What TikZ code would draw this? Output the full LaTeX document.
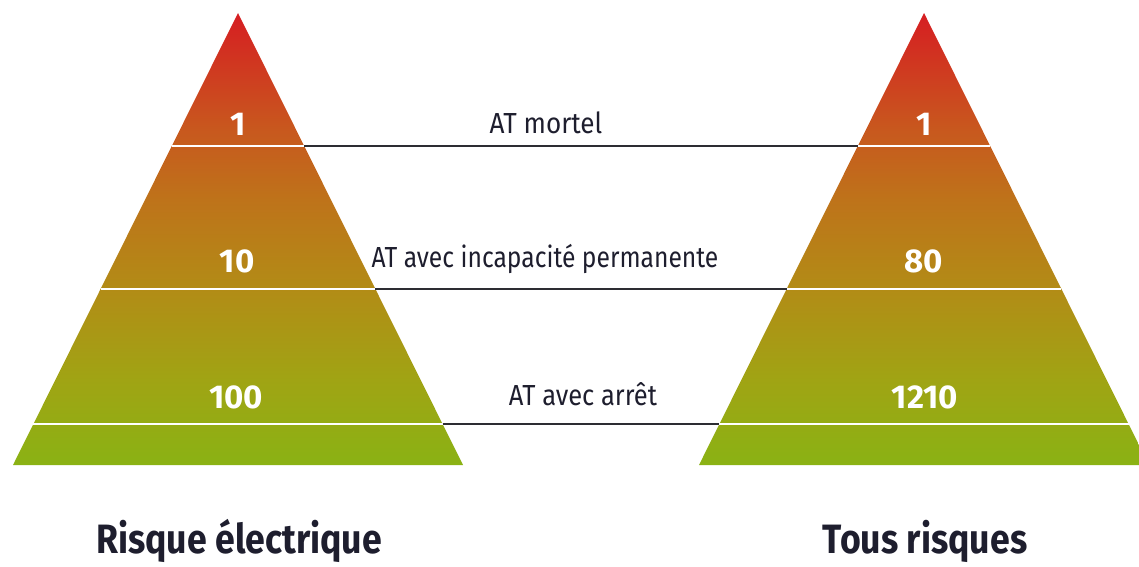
\documentclass[tikz,border=0pt]{standalone}
\usepackage{graphicx}
\usepackage{fontspec}
\setmainfont{Fira Sans}
\definecolor{pgreen}{RGB}{138,178,20}
\definecolor{polive}{RGB}{160,164,20}
\definecolor{pochre}{RGB}{178,140,22}
\definecolor{pbrown}{RGB}{190,115,26}
\definecolor{porange}{RGB}{200,88,30}
\definecolor{pred}{RGB}{214,30,34}
\definecolor{labtext}{RGB}{30,30,46}
\definecolor{connline}{RGB}{45,45,50}
\newcommand{\squeeze}[2]{\scalebox{#1}[1]{#2}}
\pgfdeclareverticalshading{pyrshade}{100bp}{color(0bp)=(pgreen); color(25bp)=(pgreen); color(34.4bp)=(polive); color(44.4bp)=(pochre); color(54.3bp)=(pbrown); color(62.1bp)=(porange); color(75bp)=(pred); color(100bp)=(pred)}
\tikzset{
  sep/.style={white, line width=2.2pt},
  conn/.style={connline, line width=2.2pt},
  num/.style={text=white, font=\fontsize{33}{36}\selectfont\bfseries, anchor=base, inner sep=0pt},
  lab/.style={text=labtext, font=\fontsize{29}{32}\selectfont, anchor=base, inner sep=0pt},
  ttl/.style={text=labtext, font=\fontsize{41}{46}\selectfont\bfseries, anchor=base, inner sep=0pt}
}
\begin{document}
\begin{tikzpicture}[x=1pt,y=-1pt]
\useasboundingbox (0,0) rectangle (1139,566);
\begin{scope}
\clip (0,0) rectangle (1139,566);
\shade[shading=pyrshade] (238,13) -- (463,465) -- (13,465) -- cycle;
\shade[shading=pyrshade] (924,13) -- (1149,465) -- (699,465) -- cycle;
% separators
\coordinate (la1) at (171.8,146); \coordinate (lb1) at (304.2,146);
\coordinate (la2) at (100.6,289); \coordinate (lb2) at (375.4,289);
\coordinate (la3) at (33.4,424);  \coordinate (lb3) at (442.6,424);
\coordinate (ra1) at (857.8,146); \coordinate (rb1) at (990.2,146);
\coordinate (ra2) at (786.6,289); \coordinate (rb2) at (1061.4,289);
\coordinate (ra3) at (719.4,424); \coordinate (rb3) at (1128.6,424);
\draw[sep] (la1) -- (lb1); \draw[sep] (la2) -- (lb2); \draw[sep] (la3) -- (lb3);
\draw[sep] (ra1) -- (rb1); \draw[sep] (ra2) -- (rb2); \draw[sep] (ra3) -- (rb3);
\end{scope}
% connectors
\draw[conn] (lb1) -- (ra1);
\draw[conn] (lb2) -- (ra2);
\draw[conn] (lb3) -- (ra3);
% numbers
\node[num] (nl1) at (238,135) {1};
\node[num] (nl2) at (237,272) {10};
\node[num] (nl3) at (236,408) {100};
\node[num] (nr1) at (924,135) {1};
\node[num] (nr2) at (924,272) {80};
\node[num] (nr3) at (925,408) {1210};
% labels
\node[lab] (t1) at (546,133) {\squeeze{0.9}{AT mortel}};
\node[lab] (t2) at (545,267) {\squeeze{0.85}{AT avec incapacité permanente}};
\node[lab] (t3) at (583,405) {\squeeze{0.88}{AT avec arrêt}};
% titles
\node[ttl] (ttl1) at (239,553) {\squeeze{0.87}{Risque électrique}};
\node[ttl] (ttl2) at (925,553) {\squeeze{0.87}{Tous risques}};
\end{tikzpicture}
\end{document}
